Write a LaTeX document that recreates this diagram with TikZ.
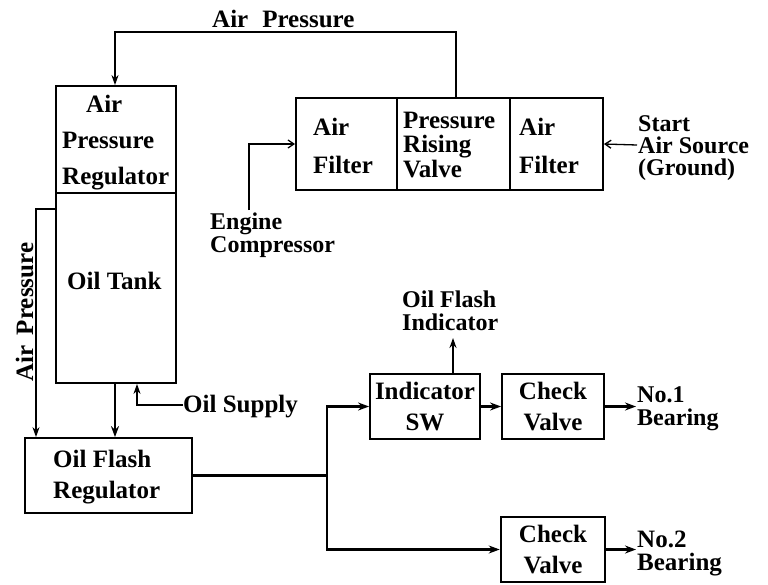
\documentclass[tikz,border=0pt]{standalone}
\usepackage{fontspec}
\setmainfont{Liberation Serif}
\usetikzlibrary{arrows.meta}
\tikzset{
  box/.style={draw, line width=1.8pt, inner sep=0pt, minimum width=#1},
  lbl/.style={inner sep=0pt, anchor=base west, align=left, font=\fontsize{25}{#1}\selectfont\bfseries},
  lbl/.default=22.5,
  slbl/.style={lbl, font=\fontsize{24}{22.5}\selectfont\bfseries},
  clbl/.style={lbl=#1, align=center, anchor=base},
  arr/.style={line width=1.8pt, -{Stealth[length=10pt,width=7pt]}},
  thn/.style={line width=1.4pt, -{Stealth[length=10pt,width=7pt]}},
  thk/.style={line width=2.6pt, -{Stealth[length=11pt,width=8pt]}},
  barb/.style={line width=1.3pt, -{Straight Barb[length=6pt,width=8pt]}},
  ln/.style={line width=2.2pt}
}
\begin{document}
\begin{tikzpicture}[x=1pt,y=-1pt]
\useasboundingbox (0,0) rectangle (768,584);
% boxes
\node[box=120pt, minimum height=107pt] (apr) at (116,139.5) {};
\node[box=120pt, minimum height=190pt] (tank) at (116,288) {};
\node[box=101pt, minimum height=92pt] (f1) at (346.5,144) {};
\node[box=113pt, minimum height=92pt] (prv) at (453.5,144) {};
\node[box=93pt, minimum height=92pt] (f2) at (556.5,144) {};
\node[box=167pt, minimum height=75pt] (ofr) at (108.5,475.5) {};
\node[box=110pt, minimum height=65pt] (isw) at (425,406.5) {};
\node[box=102pt, minimum height=65pt] (cv1) at (553,406.5) {};
\node[box=104pt, minimum height=65pt, line width=2.6pt] (cv2) at (553,549.5) {};
% texts (anchor = baseline of last line)
\node[lbl] (tAP) at (212,27) {Air\hspace{14pt}Pressure};
\node[lbl=36] (tapr) at (62,184) {\hspace{24pt}Air\\Pressure\\Regulator};
\node[lbl] (ttank) at (67,289) {Oil Tank};
\node[lbl=38] (tf1) at (313,173) {Air\\Filter};
\node[lbl=24.5] (tprv) at (403,177) {Pressure\\Rising\\Valve};
\node[lbl=38] (tf2) at (519,173) {Air\\Filter};
\node[lbl, font=\fontsize{24}{22}\selectfont\bfseries] (tst) at (638,175) {Start\\Air Source\\(Ground)};
\node[slbl] (tec) at (210,252) {Engine\\Compressor};
\node[lbl, anchor=base, rotate=90] (tap2) at (33,312) {Air\hspace{10pt}Pressure};
\node[lbl] (tos) at (183,412) {Oil Supply};
\node[lbl=31] (tofr) at (53,498) {Oil Flash\\Regulator};
\node[slbl] (tofi) at (402,330) {Oil Flash\\Indicator};
\node[clbl=31] (tisw) at (425,430) {Indicator\\SW};
\node[clbl=31] (tcv1) at (553,430) {Check\\Valve};
\node[slbl] (tb1) at (637,425) {No.1\\Bearing};
\node[clbl=31] (tcv2) at (553,573) {Check\\Valve};
\node[lbl=23] (tb2) at (637,570) {No.2\\Bearing};
% free ends
\coordinate (ec) at (249,210);
\coordinate (st) at (637,145);
\coordinate (os) at (183,405);
\coordinate (br) at (327,475.5);
\coordinate (ofi) at (453,338);
\coordinate (b1) at (636,406.5);
\coordinate (b2) at (636,549.5);
% connectors
\draw[arr] (prv.north -| 456,0) -- (456,32) -| (apr.north -| 115,0);
\draw[barb] (ec) |- (f1.west);
\draw[barb] (st) -- (f2.east);
\draw[thn] (tank.north west |- 0,209) -| (ofr.north west -| 36,0);
\draw[thk] (tank.south -| 115,0) -- (ofr.north -| 115,0);
\draw[thn] (os) -| (tank.south -| 137,0);
\draw[ln] (ofr.east) -- (br);
\draw[thk] (br) |- (isw.west);
\draw[thk] (br) |- (cv2.west);
\draw[thk] (isw) -- (cv1);
\draw[thk] (cv1) -- (b1);
\draw[arr] (isw.north -| ofi) -- (ofi);
\draw[thk, line width=3.2pt] (cv2) -- (b2);
\end{tikzpicture}
\end{document}
